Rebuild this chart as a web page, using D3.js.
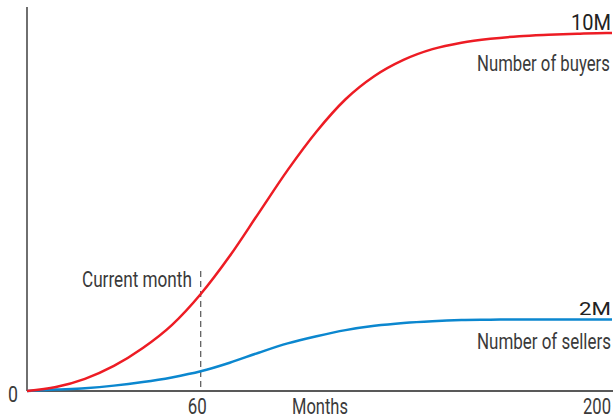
<!DOCTYPE html>
<html>
<head>
<meta charset="utf-8">
<script src="https://cdn.jsdelivr.net/npm/d3@7"></script>
<style>
  body { margin: 0; background: #fff; }
  svg { display: block; }
  text { font-family: Roboto, 'DejaVu Sans Condensed', sans-serif; fill: #3a3a3a; }
</style>
</head>
<body>
<svg id="area" width="613" height="419"></svg>
<script>
// months sampled along the curves
const months = [0, 10, 20, 30, 40, 50, 60, 70, 80, 90, 100, 110, 120, 130, 140, 150, 160, 170, 180, 190, 200, 202];
// millions
const buyers = [0, 0.11, 0.34, 0.7, 1.2, 1.84, 2.71, 3.77, 4.97, 6.17, 7.25, 8.15, 8.8, 9.25, 9.55, 9.73, 9.84, 9.91, 9.95, 9.98, 10, 10];
const sellers = [0, 0.04, 0.08, 0.15, 0.25, 0.38, 0.55, 0.79, 1.07, 1.33, 1.53, 1.7, 1.82, 1.9, 1.95, 1.98, 1.99, 2, 2, 2, 2, 2];
const xTicks = [60, 200];
const currentMonth = 60;

const svg = d3.select('#area');
const x = d3.scaleLinear().domain([0, 202]).range([27, 612]);
const y = d3.scaleLinear().domain([0, 10]).range([391, 33]);

const line = (vals) => d3.line()
  .x((d, i) => x(months[i]))
  .y((d) => y(d))
  .curve(d3.curveMonotoneX)(vals);

// condensed look: squeeze text horizontally to the measured width
// px is the left edge, w the width on screen
const label = (txt, px, py, size, w, color) => {
  const t = svg.append('text')
    .style('font-size', `${size}px`)
    .style('fill', color || '#3a3a3a')
    .text(txt);
  const len = t.node().getComputedTextLength();
  t.attr('transform', `translate(${px},${py}) scale(${w / len},1)`);
  return t;
};

// axes
svg.append('line')
  .attr('x1', 27).attr('x2', 27)
  .attr('y1', 7).attr('y2', 391)
  .attr('stroke', '#222').attr('stroke-width', 1.3);
svg.append('line')
  .attr('x1', 27).attr('x2', 613)
  .attr('y1', 391).attr('y2', 391)
  .attr('stroke', '#222').attr('stroke-width', 1.3);

// current month marker
svg.append('line')
  .attr('x1', x(currentMonth)).attr('x2', x(currentMonth))
  .attr('y1', 271).attr('y2', 391)
  .attr('stroke', '#333').attr('stroke-width', 1)
  .attr('stroke-dasharray', '6,4');
label('Current month', 82, 287, 21.5, 110);

svg.append('path')
  .attr('d', line(sellers))
  .attr('fill', 'none')
  .attr('stroke', '#0b87cf')
  .attr('stroke-width', 2.5);
svg.append('path')
  .attr('d', line(buyers))
  .attr('fill', 'none')
  .attr('stroke', '#ed1c24')
  .attr('stroke-width', 2.5);

// tick labels
label('0', 8, 402, 21.5, 10);
xTicks.forEach((d) => {
  if (d === 200) label(String(d), 583, 414, 21.5, 28);
  else label(String(d), x(d) - 13, 414, 21.5, 19);
});
label('Months', 292, 414, 21.5, 56);

// series labels
label('10M', 571, 30, 22, 40, '#222');
label('Number of buyers', 477, 71, 21.5, 133);
label('2M', 579, 315, 19, 32, '#222');
label('Number of sellers', 477, 349, 21.5, 134);
</script>
</body>
</html>
